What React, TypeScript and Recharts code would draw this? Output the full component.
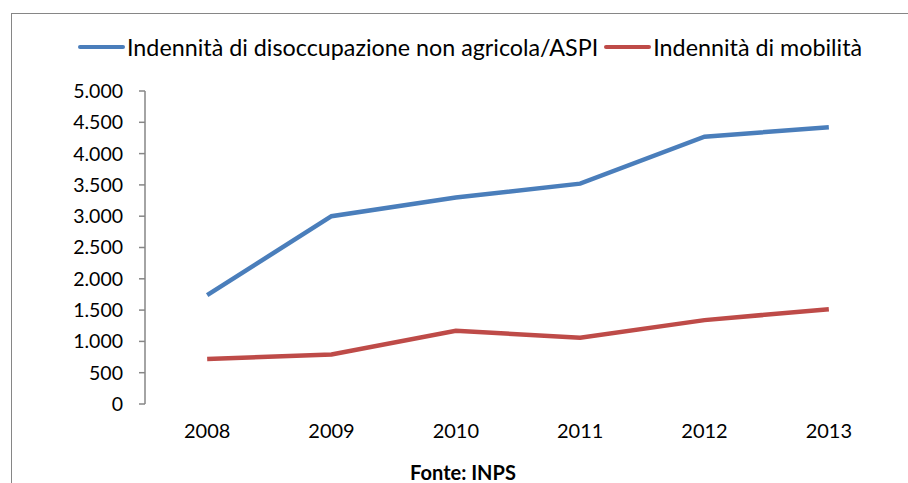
import React from 'react';
import { LineChart, Line, XAxis, YAxis, Legend } from 'recharts';

const years = ['2008', '2009', '2010', '2011', '2012', '2013'];
const disoccupazione = [1740, 3000, 3300, 3520, 4270, 4420];
const mobilita = [720, 790, 1170, 1060, 1340, 1515];
const yTicks = [0, 500, 1000, 1500, 2000, 2500, 3000, 3500, 4000, 4500, 5000];
const boundaryTicks = [0, 1, 2, 3, 4, 5, 6];

const seriesNames = {
  disoccupazione: 'Indennità di disoccupazione non agricola/ASPI',
  mobilita: 'Indennità di mobilità',
};
const sourceText = 'Fonte: INPS';

const BLUE = '#4A7EBB';
const RED = '#BE4B48';
const AXIS = '#868686';
const FONT = 'Lato, "Noto Sans", sans-serif';

const data = years.map((year, i) => ({
  year,
  idx: i + 0.5,
  disoccupazione: disoccupazione[i],
  mobilita: mobilita[i],
}));

const fmt = (v: number) => v.toLocaleString('de-DE');

const LegendContent = () => (
  <div
    style={{
      display: 'flex',
      alignItems: 'center',
      fontFamily: FONT,
      fontSize: 23.3,
      color: '#000',
      whiteSpace: 'nowrap',
      lineHeight: '30px',
    }}
  >
    {[
      { name: seriesNames.disoccupazione, color: BLUE },
      { name: seriesNames.mobilita, color: RED },
    ].map((it, i) => (
      <div key={i} style={{ display: 'flex', alignItems: 'center', marginRight: i === 0 ? 6 : 0 }}>
        <span
          style={{
            display: 'inline-block',
            width: 47,
            height: 4,
            borderRadius: 2,
            background: it.color,
            marginRight: 2,
          }}
        />
        <span>{it.name}</span>
      </div>
    ))}
  </div>
);

export default function App() {
  return (
    <div style={{ position: 'absolute', left: 0, top: 0, width: 908, height: 483, background: '#fff', overflow: 'hidden' }}>
      <div
        style={{
          position: 'absolute',
          left: 11,
          top: 13,
          width: 897,
          height: 470,
          borderLeft: `1px solid ${AXIS}`,
          borderTop: `1px solid ${AXIS}`,
          boxSizing: 'border-box',
        }}
      />
      <div style={{ position: 'absolute', left: 0, top: 0 }}>
        <LineChart
          width={908}
          height={483}
          data={data}
          margin={{ top: 91, right: 17, bottom: 39, left: 65 }}
        >
          <XAxis
            xAxisId="bounds"
            type="number"
            dataKey="idx"
            domain={[0, 6]}
            ticks={boundaryTicks}
            tick={false}
            tickSize={7}
            height={0}
            axisLine={{ stroke: AXIS, strokeWidth: 1.5 }}
            tickLine={{ stroke: AXIS, strokeWidth: 1.5 }}
          />
          <XAxis
            xAxisId="cat"
            dataKey="year"
            scale="band"
            height={40}
            axisLine={false}
            tickLine={false}
            tickSize={6}
            tickMargin={14}
            interval={0}
            tick={{ fill: '#000', fontFamily: FONT, fontSize: 20 }}
          />
          <YAxis
            domain={[0, 5000]}
            ticks={yTicks}
            width={80}
            interval={0}
            tickFormatter={fmt}
            tickSize={6}
            tickMargin={16}
            axisLine={{ stroke: AXIS, strokeWidth: 1.5 }}
            tickLine={{ stroke: AXIS, strokeWidth: 1.5 }}
            tick={{ fill: '#000', fontFamily: FONT, fontSize: 19.5 }}
          />
          <Legend
            layout="vertical"
            align="center"
            verticalAlign="middle"
            wrapperStyle={{ top: 32, left: 78, width: 'auto' }}
            content={<LegendContent />}
          />
          <Line
            xAxisId="cat"
            type="linear"
            dataKey="disoccupazione"
            name={seriesNames.disoccupazione}
            stroke={BLUE}
            strokeWidth={4.5}
            dot={false}
            activeDot={false}
            isAnimationActive={false}
          />
          <Line
            xAxisId="cat"
            type="linear"
            dataKey="mobilita"
            name={seriesNames.mobilita}
            stroke={RED}
            strokeWidth={4.5}
            dot={false}
            activeDot={false}
            isAnimationActive={false}
          />
        </LineChart>
      </div>
      <div
        style={{
          position: 'absolute',
          left: 313,
          width: 300,
          top: 462,
          textAlign: 'center',
          fontFamily: FONT,
          fontWeight: 700,
          fontSize: 20,
          color: '#000',
          lineHeight: '20px',
        }}
      >
        {sourceText}
      </div>
    </div>
  );
}
